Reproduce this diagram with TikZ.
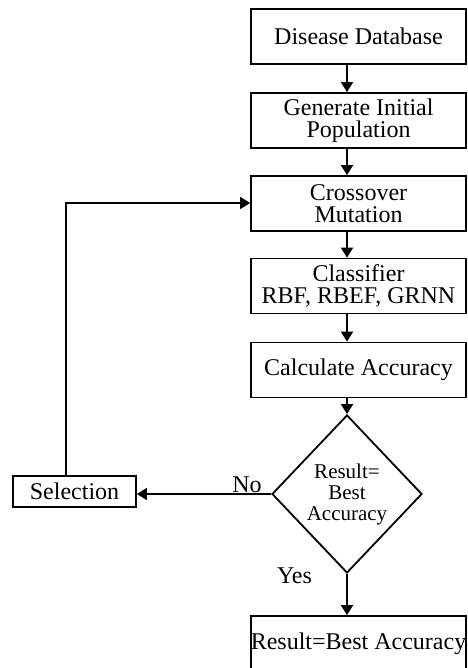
\documentclass[tikz,border=0pt]{standalone}
\usepackage{fontspec}
\setmainfont{Liberation Serif}
\usetikzlibrary{shapes.geometric,arrows.meta}
\begin{document}
\begin{tikzpicture}[x=0.5pt,y=-0.5pt,
  line width=0.9pt,
  procbox/.style={draw, rectangle, minimum width=107.5pt, minimum height=27.5pt, inner sep=0pt, align=center, font=\fontsize{12}{11}\selectfont},
  decbox/.style={draw, diamond, minimum width=75pt, minimum height=79pt, aspect=0.95, inner sep=0pt, align=center, font=\fontsize{10.5}{10.5}\selectfont},
  lbl/.style={inner sep=0pt, font=\fontsize{12}{12}\selectfont},
  arr/.style={-{Triangle[length=5pt,width=6pt]}}]
\useasboundingbox (0,0) rectangle (467,668);
\node[procbox] (db) at (358.5,36.5) {Disease Database};
\node[procbox] (gen) at (358.5,120.5) {Generate Initial\\Population};
\node[procbox] (cross) at (358.5,203.5) {Crossover\\Mutation};
\node[procbox] (cls) at (358.5,286) {Classifier\\RBF, RBEF, GRNN};
\node[procbox] (calc) at (358.5,370) {Calculate Accuracy};
\node[decbox] (dia) at (347,494) {Result=\\Best\\Accuracy};
\node[procbox, minimum width=61.5pt, minimum height=15.5pt] (sel) at (74.5,491.5) {Selection};
\node[procbox, minimum height=28pt] (res) at (358.5,644) {Result=Best Accuracy};
\coordinate (lp) at (66,203);
\node[lbl] (no) at (247,485) {No};
\node[lbl] (yes) at (294.5,576) {Yes};
\draw[arr] (db.south -| dia.north) -- (gen.north -| dia.north);
\draw[arr] (gen.south -| dia.north) -- (cross.north -| dia.north);
\draw[arr] (cross.south -| dia.north) -- (cls.north -| dia.north);
\draw[arr] (cls.south -| dia.north) -- (calc.north -| dia.north);
\draw[arr] (calc.south -| dia.north) -- (dia.north);
\draw[arr] (dia.south) -- (res.north -| dia.south);
\draw[arr] (dia.west) -- (dia.west -| sel.east);
\draw[arr] (sel.north -| lp) -- (lp) -- (cross.west |- lp);
\end{tikzpicture}
\end{document}
